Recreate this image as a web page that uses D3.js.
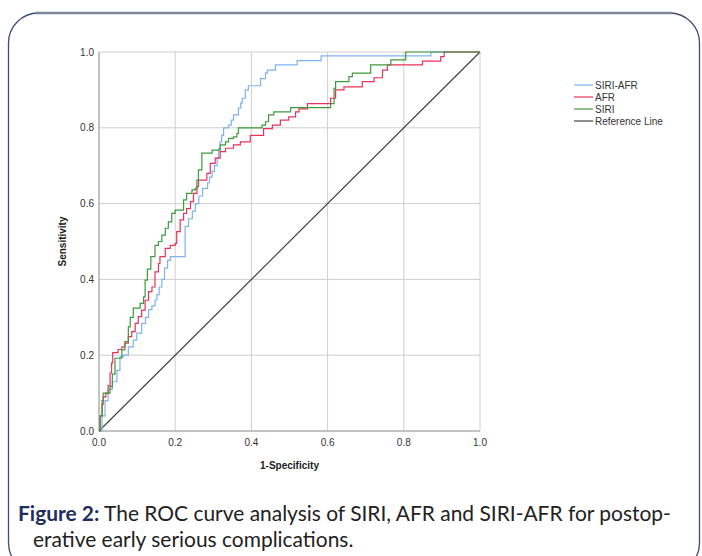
<!DOCTYPE html>
<html>
<head>
<meta charset="utf-8">
<script src="https://cdn.jsdelivr.net/npm/d3@7"></script>
<style>
  body { margin: 0; background: #fff; }
  svg { display: block; }
  .tick-label { font-family: "Liberation Sans", Arial, sans-serif; font-size: 10px; fill: #333; }
  .axis-title { font-family: "Liberation Sans", Arial, sans-serif; font-size: 10px; font-weight: bold; fill: #222; }
  .legend-label { font-family: "Liberation Sans", Arial, sans-serif; font-size: 10px; fill: #333; }
  .caption { font-family: Lato, "Open Sans", sans-serif; fill: #222; }
</style>
</head>
<body>
<div id="chart"></div>
<script>
// ROC step vertices: [1-specificity, sensitivity], vertical rise happens at each x
const siriAfr = [
  [0, 0], [0.008, 0.04], [0.016, 0.08], [0.024, 0.11], [0.035, 0.13], [0.047, 0.16],
  [0.055, 0.196], [0.064, 0.2], [0.077, 0.222], [0.09, 0.24], [0.099, 0.258], [0.112, 0.284],
  [0.122, 0.3], [0.13, 0.32], [0.139, 0.33], [0.147, 0.345], [0.152, 0.36], [0.158, 0.38],
  [0.165, 0.4], [0.172, 0.43], [0.18, 0.45], [0.187, 0.46], [0.226, 0.54], [0.235, 0.56],
  [0.245, 0.58], [0.253, 0.6], [0.262, 0.62], [0.272, 0.64], [0.285, 0.655], [0.29, 0.67],
  [0.297, 0.685], [0.303, 0.7], [0.31, 0.72], [0.314, 0.745], [0.318, 0.763], [0.322, 0.78],
  [0.327, 0.8], [0.34, 0.807], [0.347, 0.82], [0.353, 0.834], [0.366, 0.852], [0.372, 0.865],
  [0.376, 0.878], [0.384, 0.9], [0.392, 0.911], [0.424, 0.93], [0.437, 0.945], [0.442, 0.952],
  [0.463, 0.966], [0.52, 0.977], [0.583, 0.99], [0.871, 1], [1, 1],
];

const afr = [
  [0, 0], [0.003, 0.04], [0.008, 0.07], [0.011, 0.09], [0.018, 0.1], [0.024, 0.12],
  [0.029, 0.153], [0.033, 0.18], [0.036, 0.207], [0.05, 0.215], [0.06, 0.222], [0.068, 0.232],
  [0.077, 0.249], [0.086, 0.262], [0.095, 0.284], [0.103, 0.302], [0.112, 0.319], [0.121, 0.345],
  [0.13, 0.368], [0.139, 0.38], [0.147, 0.42], [0.156, 0.442], [0.16, 0.46], [0.174, 0.482],
  [0.187, 0.49], [0.2, 0.495], [0.204, 0.526], [0.213, 0.557], [0.222, 0.574], [0.23, 0.587],
  [0.24, 0.605], [0.248, 0.627], [0.257, 0.645], [0.261, 0.662], [0.283, 0.68], [0.292, 0.706],
  [0.305, 0.72], [0.318, 0.737], [0.332, 0.746], [0.353, 0.755], [0.371, 0.763], [0.397, 0.78],
  [0.432, 0.798], [0.455, 0.807], [0.476, 0.82], [0.498, 0.829], [0.516, 0.842], [0.525, 0.85],
  [0.547, 0.864], [0.608, 0.878], [0.621, 0.9], [0.643, 0.908], [0.691, 0.922], [0.722, 0.932],
  [0.744, 0.952], [0.757, 0.966], [0.849, 0.976], [0.897, 0.988], [0.906, 1], [1, 1],
];

const siri = [
  [0, 0], [0.003, 0.04], [0.008, 0.08], [0.011, 0.1], [0.029, 0.117], [0.035, 0.15],
  [0.042, 0.192], [0.06, 0.214], [0.068, 0.236], [0.077, 0.275], [0.082, 0.3], [0.09, 0.324],
  [0.108, 0.337], [0.117, 0.354], [0.121, 0.398], [0.127, 0.427], [0.136, 0.46], [0.147, 0.49],
  [0.156, 0.5], [0.165, 0.517], [0.174, 0.535], [0.182, 0.552], [0.191, 0.574], [0.2, 0.583],
  [0.222, 0.61], [0.23, 0.627], [0.244, 0.636], [0.253, 0.64], [0.257, 0.662], [0.261, 0.689],
  [0.27, 0.733], [0.297, 0.741], [0.318, 0.755], [0.332, 0.763], [0.34, 0.772], [0.353, 0.776],
  [0.362, 0.785], [0.366, 0.8], [0.428, 0.807], [0.437, 0.816], [0.445, 0.834], [0.459, 0.842],
  [0.503, 0.853], [0.608, 0.864], [0.617, 0.904], [0.621, 0.922], [0.656, 0.935], [0.665, 0.944],
  [0.713, 0.966], [0.766, 0.979], [0.805, 1], [1, 1],
];

const referenceLine = [[0, 0], [1, 1]];

const seriesNames = ['SIRI-AFR', 'AFR', 'SIRI', 'Reference Line'];
const tickValues = [0, 0.2, 0.4, 0.6, 0.8, 1.0];

const colors = {
  'SIRI-AFR': '#7fb2f0',
  AFR: '#e8335a',
  SIRI: '#3d9a3d',
  'Reference Line': '#444',
};

const width = 702;
const height = 556;

const svg = d3.select('#chart').append('svg')
  .attr('width', width)
  .attr('height', height);

// rounded frame around figure
svg.append('rect')
  .attr('x', 8.5)
  .attr('y', 13)
  .attr('width', 691)
  .attr('height', 560)
  .attr('rx', 30)
  .attr('fill', 'none')
  .attr('stroke', '#3e4d72')
  .attr('stroke-width', 1.3);
svg.append('line')
  .attr('x1', 36).attr('x2', 672)
  .attr('y1', 13).attr('y2', 13)
  .attr('stroke', '#7d8799')
  .attr('stroke-width', 2.5);

const plot = { left: 99, right: 480, top: 52, bottom: 431 };

const x = d3.scaleLinear().domain([0, 1]).range([plot.left, plot.right]);
const y = d3.scaleLinear().domain([0, 1]).range([plot.bottom, plot.top]);

const g = svg.append('g');

// grid
g.selectAll('.vgrid')
  .data(tickValues.slice(1))
  .enter().append('line')
  .attr('x1', d => x(d)).attr('x2', d => x(d))
  .attr('y1', y(0)).attr('y2', y(1))
  .attr('stroke', '#cfcfcf');
g.selectAll('.hgrid')
  .data(tickValues.slice(1))
  .enter().append('line')
  .attr('x1', x(0)).attr('x2', x(1))
  .attr('y1', d => y(d)).attr('y2', d => y(d))
  .attr('stroke', '#cfcfcf');

// axis lines
g.append('line')
  .attr('x1', x(0)).attr('x2', x(0))
  .attr('y1', y(0)).attr('y2', y(1))
  .attr('stroke', '#888');
g.append('line')
  .attr('x1', x(0)).attr('x2', x(1))
  .attr('y1', y(0)).attr('y2', y(0))
  .attr('stroke', '#888');

// tick labels
g.selectAll('.ylab')
  .data(tickValues)
  .enter().append('text')
  .attr('class', 'tick-label')
  .attr('x', x(0) - 5)
  .attr('y', d => y(d) + 3.5)
  .attr('text-anchor', 'end')
  .text(d => d3.format('.1f')(d));
g.selectAll('.xlab')
  .data(tickValues)
  .enter().append('text')
  .attr('class', 'tick-label')
  .attr('x', d => x(d))
  .attr('y', y(0) + 15)
  .attr('text-anchor', 'middle')
  .text(d => d3.format('.1f')(d));

svg.append('text')
  .attr('class', 'axis-title')
  .attr('transform', `translate(66, ${(plot.top + plot.bottom) / 2}) rotate(-90)`)
  .attr('text-anchor', 'middle')
  .text('Sensitivity');
svg.append('text')
  .attr('class', 'axis-title')
  .attr('x', (plot.left + plot.right) / 2)
  .attr('y', 469)
  .attr('text-anchor', 'middle')
  .text('1-Specificity');

// curves
const stepLine = d3.line()
  .x(d => x(d[0]))
  .y(d => y(d[1]))
  .curve(d3.curveStepAfter);

const curves = [
  { name: 'Reference Line', values: referenceLine, curve: d3.curveLinear },
  { name: 'SIRI-AFR', values: siriAfr },
  { name: 'AFR', values: afr },
  { name: 'SIRI', values: siri },
];

curves.forEach((c) => {
  g.append('path')
    .datum(c.values)
    .attr('fill', 'none')
    .attr('stroke', colors[c.name])
    .attr('stroke-width', 1.2)
    .attr('d', stepLine.curve(c.curve || d3.curveStepAfter));
});

// legend
const legend = svg.append('g')
  .attr('transform', 'translate(574, 85)');
const item = legend.selectAll('.item')
  .data(seriesNames)
  .enter().append('g')
  .attr('transform', (d, i) => `translate(0, ${i * 12})`);
item.append('line')
  .attr('x1', 0).attr('x2', 19)
  .attr('stroke', d => colors[d])
  .attr('stroke-width', 1.2);
item.append('text')
  .attr('class', 'legend-label')
  .attr('x', 21)
  .attr('y', 3.5)
  .text(d => d);

// caption
const cap1 = svg.append('text')
  .attr('class', 'caption')
  .attr('x', 18)
  .attr('y', 521);
cap1.append('tspan')
  .attr('font-weight', 'bold')
  .attr('fill', '#1e2f5c')
  .text('Figure 2:');
cap1.append('tspan')
  .text(' The ROC curve analysis of SIRI, AFR and SIRI-AFR for postop-');
const cap2 = svg.append('text')
  .attr('class', 'caption')
  .attr('x', 33)
  .attr('y', 547)
  .text('erative early serious complications.');

// fit caption font so the first line spans the same width as the figure text
let fs = 20;
cap1.attr('font-size', fs);
const w = cap1.node().getComputedTextLength();
fs = fs * 653 / w;
cap1.attr('font-size', fs);
cap2.attr('font-size', fs);
</script>
</body>
</html>
